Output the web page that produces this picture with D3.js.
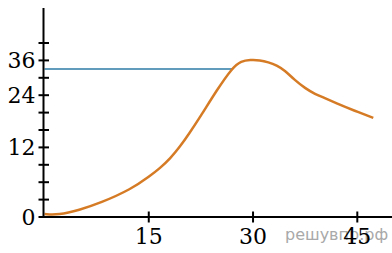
<!DOCTYPE html>
<html>
<head>
<meta charset="utf-8">
<script src="https://cdn.jsdelivr.net/npm/d3@7"></script>
<style>
    body { margin: 0; background: #fff; }
    svg { display: block; }
</style>
</head>
<body>
<div id="chart"></div>
<script>
// values
const curve_t = [0, 2, 5, 8, 12.5, 15.2, 16.6, 18.1, 19.5, 20.7, 22.4, 24.8, 27.0, 28.3, 29.6, 31.0, 32.2, 33.4, 34.6, 36.0, 37.5, 38.9, 40.4, 42.5, 44.5, 47.3];
const curve_v = [0.5, 0.35, 1.2, 2.4, 4.8, 7.1, 8.4, 10.1, 12.2, 14.9, 19.0, 25.8, 33.4, 35.8, 36.2, 36.1, 35.4, 34.3, 32.5, 29.2, 26.4, 24.4, 23.3, 21.8, 20.5, 18.8];
const level_value = 33;
const level_end_t = 27.1;
const x_ticks = [15, 30, 45];
const y_labels = [0, 12, 24, 36];
const y_label_steps = [0, 4, 7, 9];   // which small tick each label sits on
const y_step_count = 10;

const width = 392, height = 253;
const svg = d3.select("#chart").append("svg")
    .attr("width", width)
    .attr("height", height);

var x_scale = d3.scaleLinear().domain([0, 45]).range([44.5, 357.3]);

// small ticks are evenly spaced, the labels are not
var step_scale = d3.scaleLinear().domain([0, y_step_count]).range([217, 43]);
var y_scale = d3.scaleLinear()
    .domain(y_labels)
    .range(y_label_steps.map(s => step_scale(s)));

// watermark sits under the labels
svg.append("text")
    .attr("x", 285)
    .attr("y", 240)
    .attr("font-family", "DejaVu Sans")
    .attr("font-size", "16px")
    .attr("fill", "#a9a9a9")
    .text("решувпр.рф");

// level line
svg.append("line")
    .attr("x1", x_scale(0))
    .attr("x2", x_scale(level_end_t))
    .attr("y1", y_scale(level_value))
    .attr("y2", y_scale(level_value))
    .attr("stroke", "#2c7ba6")
    .attr("stroke-width", 1.5);

// curve
let points = curve_t.map((t, i) => [x_scale(t), y_scale(curve_v[i])]);
svg.append("path")
    .attr("d", d3.line().curve(d3.curveBasis)(points))
    .attr("fill", "none")
    .attr("stroke", "#d67b25")
    .attr("stroke-width", 2.5);

// y axis: line + small ticks
let y_axis = svg.append("g").attr("transform", "translate(43.5,0)");
y_axis.append("line")
    .attr("y1", 8).attr("y2", 217)
    .attr("stroke", "#000").attr("stroke-width", 2);
y_axis.selectAll(".tick")
    .data(d3.range(0, y_step_count + 1))
    .enter()
    .append("line")
    .attr("x1", -5).attr("x2", 5.5)
    .attr("y1", d => step_scale(d))
    .attr("y2", d => step_scale(d))
    .attr("stroke", "#000").attr("stroke-width", 2);
y_axis.selectAll(".lbl")
    .data(y_labels)
    .enter()
    .append("text")
    .attr("x", -8)
    .attr("y", d => y_scale(d))
    .attr("dy", "0.36em")
    .attr("text-anchor", "end")
    .attr("font-family", "DejaVu Serif")
    .attr("font-size", "22px")
    .attr("fill", "#000")
    .text(d => d);

// x axis
let x_axis = svg.append("g").attr("transform", "translate(0,217)");
x_axis.append("line")
    .attr("x1", 43).attr("x2", width)
    .attr("stroke", "#000").attr("stroke-width", 2);
x_axis.selectAll(".tick")
    .data(x_ticks)
    .enter()
    .append("line")
    .attr("x1", d => x_scale(d)).attr("x2", d => x_scale(d))
    .attr("y1", -5.5).attr("y2", 5.5)
    .attr("stroke", "#000").attr("stroke-width", 2);
x_axis.selectAll(".lbl")
    .data(x_ticks)
    .enter()
    .append("text")
    .attr("x", d => x_scale(d))
    .attr("y", 27)
    .attr("text-anchor", "middle")
    .attr("font-family", "DejaVu Serif")
    .attr("font-size", "22px")
    .attr("fill", "#000")
    .text(d => d);
</script>
</body>
</html>
